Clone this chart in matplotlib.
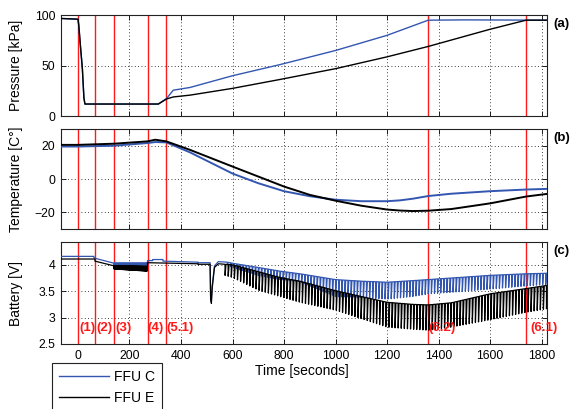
import numpy as np
import matplotlib
matplotlib.use("Agg")
import matplotlib.pyplot as plt

plt.rcParams['font.family'] = ['Liberation Sans', 'DejaVu Sans']

# ---------------- data ----------------
series_names = ["FFU C", "FFU E"]
event_times = [0, 66, 140, 270, 343, 1360, 1740]
event_labels = ["(1)", "(2)", "(3)", "(4)", "(5.1)", "(6.2)", "(6.1)"]
event_label_x = [7, 72, 144, 271, 343, 1360, 1758]

# Pressure [kPa]
p_t_c = [-66, 0, 3, 10, 17, 23, 27, 312, 344, 370, 435, 600, 784, 1000, 1200, 1360, 1500, 1822]
p_c = [96.7, 96, 90, 68, 47, 18, 12, 12, 17.5, 25.7, 28.4, 40, 51, 65, 80, 95, 95.3, 95]
p_t_e = [-66, 0, 3, 10, 17, 23, 27, 312, 344, 370, 435, 600, 784, 1000, 1200, 1360, 1600, 1740, 1822]
p_e = [96.7, 96, 90, 68, 47, 18, 12, 12, 17, 19, 20.8, 27.5, 36.3, 47, 58.7, 69, 86, 95, 95]

# Temperature [C]
t_t = [-66, 0, 140, 270, 300, 343, 435, 600, 700, 800, 900, 1000, 1100, 1200,
       1250, 1300, 1360, 1450, 1600, 1740, 1822]
temp_c = [19.5, 19.5, 20, 21.6, 22.2, 22, 16, 3.3, -2.5, -7.3, -10.3, -12.4, -13.3, -13.3,
          -12.8, -11.8, -10.2, -8.8, -7.3, -6.3, -5.9]
temp_e = [20.5, 20.5, 21.2, 22.6, 23.6, 22.6, 17.5, 7.5, 1.5, -4.5, -9.5, -13, -16, -18.3,
          -18.9, -19.2, -19, -18, -14.6, -10.5, -8.9]

# Battery [V] - baseline before periodic dips
bat_base_t_c = [-66, 62, 62, 140, 140, 270, 270, 290, 290, 330, 330, 466, 466, 513, 515, 518, 521, 530, 545, 580]
bat_base_c = [4.16, 4.16, 4.13, 4.13, 4.02, 4.02, 4.08, 4.08, 4.10, 4.10, 4.07, 4.05, 4.04, 4.04, 3.40, 3.32, 3.60, 3.98, 4.06, 4.05]
bat_base_t_e = [-66, 66, 66, 140, 140, 270, 270, 466, 466, 513, 515, 518, 521, 530, 545, 571]
bat_base_e = [4.11, 4.11, 4.07, 4.07, 3.98, 3.98, 4.04, 4.02, 4.01, 4.01, 3.35, 3.27, 3.55, 3.95, 4.02, 4.01]

# Battery band during phase (3)
band_t = [140, 270]
band_top_c = [4.03, 4.03]
band_bot_c = [3.99, 3.99]
band_top_e = [3.98, 3.97]
band_bot_e = [3.92, 3.88]

# Battery envelopes with periodic dips
env_t_c = [580, 600, 700, 784, 862, 1000, 1100, 1200, 1300, 1360, 1450, 1600, 1740, 1822]
env_top_c = [4.05, 4.03, 3.95, 3.88, 3.83, 3.72, 3.69, 3.67, 3.70, 3.72, 3.75, 3.80, 3.83, 3.84]
env_bot_c = [4.00, 3.95, 3.80, 3.72, 3.68, 3.40, 3.38, 3.35, 3.40, 3.45, 3.48, 3.54, 3.60, 3.63]
env_t_e = [571, 600, 700, 784, 862, 1000, 1100, 1200, 1300, 1360, 1450, 1600, 1740, 1822]
env_top_e = [4.01, 4.00, 3.87, 3.76, 3.69, 3.51, 3.40, 3.29, 3.25, 3.24, 3.28, 3.45, 3.55, 3.61]
env_bot_e = [3.80, 3.76, 3.52, 3.40, 3.29, 3.14, 2.98, 2.82, 2.78, 2.76, 2.82, 2.96, 3.10, 3.17]
dip_period = 12.0
band_period = 2.0

# ---------------- helpers ----------------
def spiky(tk, top, bot, t0, t1, period):
    xs, ys = [], []
    for t in np.arange(t0, t1, period):
        xs += [t, t + 0.3, t + 0.3 * period]
        ys += [np.interp(t, tk, top), np.interp(t, tk, bot), np.interp(t + 0.3 * period, tk, top)]
    return xs, ys


def battery(base_t, base_v, btop, bbot, env_t, etop, ebot):
    xs, ys = [], []
    base_t = np.asarray(base_t, float)
    base_v = np.asarray(base_v, float)
    m = base_t < band_t[0]
    xs += list(base_t[m]); ys += list(base_v[m])
    bx, by = spiky(band_t, btop, bbot, band_t[0], band_t[1], band_period)
    xs += bx; ys += by
    m = (base_t >= band_t[1]) & (base_t <= env_t[0])
    xs += list(base_t[m]); ys += list(base_v[m])
    sx, sy = spiky(env_t, etop, ebot, env_t[0], env_t[-1], dip_period)
    xs += sx; ys += sy
    return xs, ys


blue = '#3356b0'
black = '#000000'
red = '#ff1a1a'

fig = plt.figure(figsize=(5.70, 4.09), dpi=100)
ax_a = fig.add_axes([0.107, 0.716, 0.853, 0.247])
ax_b = fig.add_axes([0.107, 0.440, 0.853, 0.2445])
ax_c = fig.add_axes([0.107, 0.159, 0.853, 0.249])

xlim = (-66, 1822)
tick_fs = 8.8
label_fs = 10

for ax in (ax_a, ax_b, ax_c):
    for t in event_times:
        ax.axvline(t, color=red, lw=1.0, zorder=1)
    ax.set_xlim(*xlim)
    ax.set_xticks(np.arange(0, 1801, 200))
    ax.grid(True, color='k', linestyle=(0, (1, 3)), lw=0.6)
    ax.set_axisbelow(True)
    ax.tick_params(direction='in', top=True, right=True, length=3.5, width=0.6,
                   labelsize=tick_fs, pad=4)
    for s in ax.spines.values():
        s.set_linewidth(0.8)
        s.set_color('#222222')

# (a) pressure
l1, = ax_a.plot(p_t_c, p_c, color=blue, lw=1.0, zorder=3)
l2, = ax_a.plot(p_t_e, p_e, color=black, lw=1.0, zorder=4)
ax_a.set_ylim(0, 100)
ax_a.set_yticks([0, 50, 100])
ax_a.tick_params(labelbottom=False)
ax_a.set_ylabel("Pressure [kPa]", fontsize=label_fs)

# (b) temperature
ax_b.plot(t_t, temp_c, color=blue, lw=1.4, zorder=3)
ax_b.plot(t_t, temp_e, color=black, lw=1.4, zorder=4)
ax_b.set_ylim(-30, 30)
ax_b.set_yticks([-20, 0, 20])
ax_b.tick_params(labelbottom=False)
ax_b.set_ylabel("Temperature [C\u00b0]", fontsize=label_fs)

# (c) battery
bx, by = battery(bat_base_t_c, bat_base_c, band_top_c, band_bot_c, env_t_c, env_top_c, env_bot_c)
ax_c.plot(bx, by, color=blue, lw=0.9, zorder=3)
bx, by = battery(bat_base_t_e, bat_base_e, band_top_e, band_bot_e, env_t_e, env_top_e, env_bot_e)
ax_c.plot(bx, by, color=black, lw=0.9, zorder=4)
ax_c.set_ylim(2.5, 4.43)
ax_c.set_yticks([2.5, 3, 3.5, 4])
ax_c.set_yticklabels(["2.5", "3", "3.5", "4"])
ax_c.set_ylabel("Battery [V]", fontsize=label_fs)
ax_c.set_xlabel("Time [seconds]", fontsize=label_fs)
ax_c.xaxis.set_label_coords(0.495, -0.2)

for x, lab in zip(event_label_x, event_labels):
    ax_c.text(x, 2.8, lab, color=red, fontsize=9.5, fontweight='bold',
              ha='left', va='center', zorder=6)

for ax in (ax_a, ax_b, ax_c):
    ax.yaxis.set_label_coords(-0.078, 0.5)

for ax, lab in zip((ax_a, ax_b, ax_c), ["(a)", "(b)", "(c)"]):
    ax.text(1.012, 0.91, lab, transform=ax.transAxes, fontsize=9.5,
            fontweight='bold', ha='left', va='center')

leg = fig.legend([l1, l2], series_names, loc='upper left',
                 bbox_to_anchor=(0.0907, 0.1125), bbox_transform=fig.transFigure,
                 fontsize=10, frameon=True, fancybox=False, framealpha=1,
                 edgecolor='#222222', borderaxespad=0, handlelength=3.6,
                 labelspacing=0.5, borderpad=0.5, handletextpad=0.4)
leg.get_frame().set_linewidth(0.8)

fig.savefig("out.png", dpi=100)
